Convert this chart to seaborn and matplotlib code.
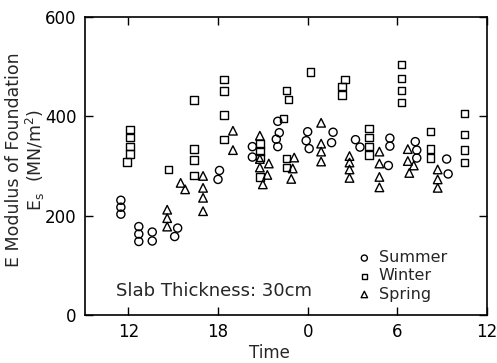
import numpy as np
import pandas as pd
import matplotlib
matplotlib.use("Agg")
import matplotlib.pyplot as plt
import seaborn as sns

# Time axis runs 12 -> 12 next day, kept as continuous hours (24 = midnight)
summer_hour = [11.5, 11.5, 11.5, 12.7, 12.7, 12.7, 13.6, 13.6, 15.3, 15.1,
               18.1, 18.0, 20.3, 20.3, 22.0, 22.1, 21.9, 22.0, 24.0, 23.9,
               24.1, 25.7, 25.6, 27.2, 27.5, 29.5, 29.5, 29.4, 31.2, 31.3,
               31.3, 33.3, 33.4]
summer_es = [231, 217, 203, 178, 163, 148, 167, 149, 175, 158,
             291, 273, 339, 318, 390, 367, 354, 339, 369, 351,
             335, 368, 347, 353, 338, 356, 340, 301, 349, 332,
             316, 314, 284]

winter_hour = [12.1, 12.1, 12.1, 12.1, 11.9, 14.7, 16.4, 16.4, 16.4, 16.4,
               18.4, 18.4, 18.4, 18.4, 20.8, 20.8, 20.8, 20.8, 22.4, 22.6,
               22.7, 22.6, 22.6, 24.2, 26.5, 26.3, 26.3, 28.1, 28.1, 28.1,
               28.1, 30.3, 30.3, 30.3, 30.3, 32.2, 32.2, 32.2, 34.5, 34.5,
               34.5, 34.5]
winter_es = [374, 357, 339, 324, 308, 293, 433, 334, 312, 281,
             474, 451, 403, 353, 344, 330, 317, 278, 396, 452,
             434, 315, 297, 489, 474, 460, 443, 376, 357, 339,
             322, 504, 476, 452, 428, 369, 334, 316, 406, 363,
             332, 307]

spring_hour = [14.6, 14.6, 14.6, 15.5, 15.8, 17.0, 17.0, 17.0, 17.0, 19.0,
               19.0, 20.8, 20.8, 20.8, 21.0, 21.4, 21.3, 23.1, 23.0, 22.9,
               24.9, 24.9, 24.9, 24.9, 26.8, 26.8, 26.8, 26.8, 28.8, 28.8,
               28.8, 28.8, 30.7, 30.7, 30.8, 31.1, 32.7, 32.7, 32.7]
spring_es = [212, 195, 178, 266, 253, 280, 256, 236, 209, 371,
             332, 361, 314, 297, 263, 305, 282, 317, 295, 274,
             387, 345, 329, 309, 320, 307, 293, 276, 329, 305,
             278, 257, 334, 310, 286, 301, 293, 273, 256]

seasons = ["Summer", "Winter", "Spring"]
markers = {"Summer": "o", "Winter": "s", "Spring": "^"}
sizes = {"Summer": 34, "Winter": 28, "Spring": 38}

x_ticks = [12, 18, 24, 30, 36]
x_ticklabels = ["12", "18", "0", "6", "12"]
y_ticks = [0, 200, 400, 600]

df = pd.concat([
    pd.DataFrame({"hour": summer_hour, "Es": summer_es, "season": "Summer"}),
    pd.DataFrame({"hour": winter_hour, "Es": winter_es, "season": "Winter"}),
    pd.DataFrame({"hour": spring_hour, "Es": spring_es, "season": "Spring"}),
], ignore_index=True)

sns.set_style("ticks")
plt.rcParams["font.family"] = ["DejaVu Sans"]
plt.rcParams["xtick.direction"] = "in"
plt.rcParams["ytick.direction"] = "in"

fig = plt.figure(figsize=(4.97, 3.63), dpi=100)
ax = fig.add_axes([85 / 497, 1 - 315 / 363, 402 / 497, 298 / 363])

for s in seasons:
    sub = df[df["season"] == s]
    sns.scatterplot(data=sub, x="hour", y="Es", marker=markers[s], s=sizes[s],
                    facecolor="none", edgecolor="black", linewidth=1.0,
                    label=s, ax=ax, legend=False)

ax.set_xlim(9.1, 36)
ax.set_ylim(0, 600)
ax.set_xticks(x_ticks)
ax.set_xticklabels(x_ticklabels)
ax.set_yticks(y_ticks)
ax.tick_params(axis="both", which="major", labelsize=12, length=6, width=1.0,
               top=True, right=True, colors="black", pad=6)
for sp in ax.spines.values():
    sp.set_linewidth(1.2)
    sp.set_color("black")

ax.set_xlabel("Time", fontsize=12, va="center")
ax.xaxis.set_label_coords((269 - 85) / 402, -0.127)
ax.set_ylabel("E Modulus of Foundation\n$\\mathregular{E_s}$  (MN/m$^\\mathregular{2}$)",
              fontsize=12.5, linespacing=1.05, va="center")
ax.yaxis.set_label_coords(-0.148, 0.52)

ax.text(11.2, 48, "Slab Thickness: 30cm", fontsize=13, va="center", ha="left")

handles, labels = ax.get_legend_handles_labels()
leg = ax.legend(handles, labels, loc="center left", bbox_to_anchor=(0.675, 0.131),
                frameon=False, fontsize=11.5, markerscale=0.75, handlelength=1.0,
                handletextpad=0.4, labelspacing=0.2, borderpad=0, borderaxespad=0)

fig.savefig("out.png", dpi=100)
